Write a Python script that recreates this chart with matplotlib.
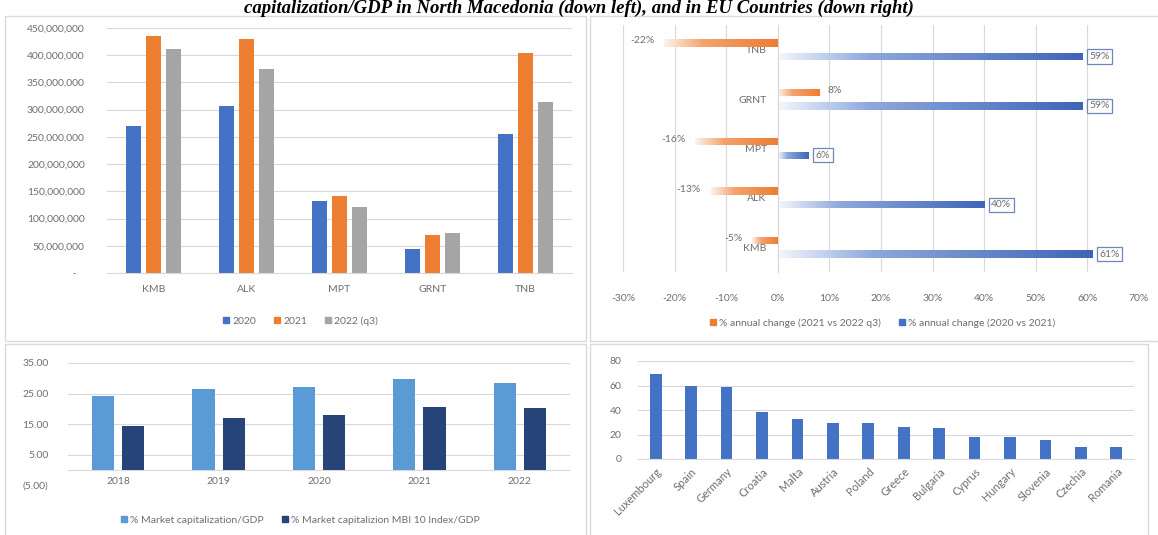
import numpy as np
import matplotlib
matplotlib.use("Agg")
from matplotlib import pyplot as plt
from matplotlib.lines import Line2D
from matplotlib.patches import Rectangle
from matplotlib.colors import LinearSegmentedColormap
from matplotlib.ticker import FuncFormatter

plt.rcParams['font.family'] = ['Lato', 'DejaVu Sans']
plt.rcParams['font.size'] = 7.5
plt.rcParams['text.color'] = '#6E6E6E'
plt.rcParams['xtick.color'] = '#6E6E6E'
plt.rcParams['ytick.color'] = '#6E6E6E'

# Data Set
companies = ["KMB", "ALK", "MPT", "GRNT", "TNB"]
cap_2020 = [270e6, 306e6, 133e6, 44e6, 256e6]
cap_2021 = [436e6, 430e6, 142e6, 70e6, 405e6]
cap_2022q3 = [411e6, 374e6, 121e6, 74e6, 315e6]

chg_21_22 = [-5, -13, -16, 8, -22]     # % annual change (2021 vs 2022 q3)
chg_20_21 = [61, 40, 6, 59, 59]        # % annual change (2020 vs 2021)

years = ["2018", "2019", "2020", "2021", "2022"]
mcap_gdp = [24.2, 26.4, 27.2, 29.8, 28.3]
mbi_gdp = [14.2, 17.0, 17.9, 20.7, 20.3]

countries = ["Luxembourg", "Spain", "Germany", "Croatia", "Malta", "Austria", "Poland",
             "Greece", "Bulgaria", "Cyprus", "Hungary", "Slovenia", "Czechia", "Romania"]
eu_values = [69, 59.5, 59, 38.5, 33, 29.6, 29, 26.3, 25, 18.2, 17.6, 15.5, 10, 9.5]

BLUE, ORANGE, GRAY = '#4472C4', '#ED7D31', '#A5A5A5'
LIGHT, NAVY = '#5B9BD5', '#264478'
GRID = '#D9D9D9'

W, H = 1158, 535
fig = plt.figure(figsize=(W / 100, H / 100), dpi=100)


def px_axes(l, t, r, b):
    return fig.add_axes([l / W, 1 - b / H, (r - l) / W, (b - t) / H])


def clean(ax):
    for s in ax.spines.values():
        s.set_visible(False)
    ax.tick_params(length=0)


def legend_at(ax, handles, labels, x, y, ncol):
    ax.legend(handles, labels, loc='center', bbox_to_anchor=(x / W, 1 - y / H),
              bbox_transform=fig.transFigure, ncol=ncol, frameon=False,
              handletextpad=0.2, columnspacing=1.6, handlelength=0.8, fontsize=7.5)


def sq(c):
    return Line2D([], [], marker='s', ls='', color=c, markersize=4.5)


# panel borders
for (l, t, r, b) in [(5, 16, 586, 341), (590, 16, 1170, 341), (5, 344, 586, 545), (590, 344, 1148, 545)]:
    fig.patches.append(Rectangle((l / W, 1 - b / H), (r - l) / W, (b - t) / H,
                                 transform=fig.transFigure, fill=False, ec=GRID, lw=1))

# title
fig.text(0.5, 1 - 13 / H, "capitalization/GDP in North Macedonia (down left), and in EU Countries (down right)",
         ha='center', va='baseline', family='Liberation Serif', weight='bold', style='italic',
         fontsize=13.5, color='black')

# ---- top left: market cap per company
ax1 = px_axes(107, 28, 572, 273)
x = np.arange(len(companies))
bw = 0.16
ax1.bar(x - 0.215, cap_2020, bw, color=BLUE, zorder=2)
ax1.bar(x, cap_2021, bw, color=ORANGE, zorder=2)
ax1.bar(x + 0.215, cap_2022q3, bw, color=GRAY, zorder=2)
ax1.set_xlim(-0.5, 4.5)
ax1.set_ylim(0, 450e6)
ax1.set_yticks(np.arange(0, 450e6 + 1, 50e6))
ax1.yaxis.set_major_formatter(FuncFormatter(lambda v, p: ' -   ' if v == 0 else f'{v:,.0f}'))
ax1.set_xticks(x)
ax1.set_xticklabels(companies)
ax1.grid(axis='y', color=GRID, lw=0.8, zorder=0)
clean(ax1)
ax1.spines['bottom'].set_visible(True)
ax1.spines['bottom'].set_color(GRID)
ax1.tick_params(axis='y', pad=16)
ax1.tick_params(axis='x', pad=9)
legend_at(ax1, [sq(BLUE), sq(ORANGE), sq(GRAY)], ["2020", "2021", "2022 (q3)"], 300, 321, 3)

# ---- top right: annual change, gradient bars
ax2 = px_axes(623, 25, 1139, 272)
y = np.arange(len(companies))
bh = 0.15
ob = ax2.barh(y + 0.137, chg_21_22, bh, color='none', zorder=3)
bb = ax2.barh(y - 0.137, chg_20_21, bh, color='none', zorder=3)
cm_o = LinearSegmentedColormap.from_list('o', [(0, '#FDF3EC'), (0.35, '#F3A26C'), (1, ORANGE)])
cm_b = LinearSegmentedColormap.from_list('b', [(0, '#F4F7FC'), (0.3, '#8EA8DC'), (1, '#3F65B8')])
grad = np.linspace(0, 1, 256).reshape(1, -1)
for bars, cm in [(ob, cm_o), (bb, cm_b)]:
    for bar in bars:
        x0, w = bar.get_x(), bar.get_width()
        y0, h = bar.get_y(), bar.get_height()
        im = ax2.imshow(grad, extent=[min(x0, x0 + w), max(x0, x0 + w), y0, y0 + h],
                        aspect='auto', cmap=cm, zorder=2, interpolation='bilinear')
        im.set_clip_path(bar)
for i, v in enumerate(chg_20_21):
    ax2.annotate(f'{v}%', (v, i - 0.137), xytext=(5, 0), textcoords='offset points',
                 ha='left', va='center', fontsize=7.5,
                 bbox=dict(boxstyle='square,pad=0.25', fc='white', ec='#6F87B8', lw=0.9))
for i, v in enumerate(chg_21_22):
    if v < 0:
        ax2.annotate(f'{v}%', (v, i + 0.18), xytext=(-7, 0), textcoords='offset points',
                     ha='right', va='center', fontsize=7.5)
    else:
        ax2.annotate(f'{v}%', (v, i + 0.18), xytext=(6, 0), textcoords='offset points',
                     ha='left', va='center', fontsize=7.5)
ax2.set_xlim(-30, 70)
ax2.set_ylim(-0.5, 4.5)
ax2.set_xticks(np.arange(-30, 71, 10))
ax2.xaxis.set_major_formatter(FuncFormatter(lambda v, p: f'{v:.0f}%'))
ax2.set_yticks(y)
ax2.set_yticklabels(companies)
ax2.grid(axis='x', color=GRID, lw=0.8, zorder=0)
clean(ax2)
ax2.spines['left'].set_position(('data', 0))
ax2.spines['left'].set_visible(True)
ax2.spines['left'].set_color(GRID)
ax2.tick_params(axis='y', pad=8)
ax2.tick_params(axis='x', pad=16)
for lab in ax2.get_yticklabels():
    lab.set_zorder(5)
legend_at(ax2, [sq(ORANGE), sq(BLUE)],
          ["% annual change (2021 vs 2022 q3)", "% annual change (2020 vs 2021)"], 882, 323, 2)

# ---- bottom left: market capitalization / GDP
ax3 = px_axes(68, 363, 570, 485)
xy = np.arange(len(years))
ax3.bar(xy - 0.15, mcap_gdp, 0.22, color=LIGHT, zorder=2)
ax3.bar(xy + 0.15, mbi_gdp, 0.22, color=NAVY, zorder=2)
ax3.set_xlim(-0.5, 4.5)
ax3.set_ylim(-5, 35)
ax3.set_yticks([-5, 5, 15, 25, 35])
ax3.yaxis.set_major_formatter(FuncFormatter(lambda v, p: f'({abs(v):.2f})' if v < 0 else f'{v:.2f}'))
ax3.set_xticks(xy)
ax3.set_xticklabels(years)
ax3.grid(axis='y', color=GRID, lw=0.8, zorder=0)
ax3.axhline(0, color=GRID, lw=0.8, zorder=1)
clean(ax3)
ax3.tick_params(axis='y', pad=14)
ax3.tick_params(axis='x', pad=-6)
legend_at(ax3, [sq(LIGHT), sq(NAVY)],
          ["% Market capitalization/GDP", "% Market capitalizion MBI 10 Index/GDP"], 300, 520, 2)

# ---- bottom right: EU countries
ax4 = px_axes(638, 361, 1134, 459)
xc = np.arange(len(countries))
ax4.bar(xc, eu_values, 0.33, color=BLUE, zorder=2)
ax4.set_xlim(-0.5, len(countries) - 0.5)
ax4.set_ylim(0, 80)
ax4.set_yticks(np.arange(0, 81, 20))
ax4.set_xticks(xc)
ax4.set_xticklabels(countries, rotation=45, ha='right', rotation_mode='anchor', fontsize=8)
ax4.grid(axis='y', color=GRID, lw=0.8, zorder=0)
clean(ax4)
ax4.spines['bottom'].set_visible(True)
ax4.spines['bottom'].set_color(GRID)
ax4.tick_params(axis='y', pad=12)
ax4.tick_params(axis='x', pad=5)

fig.savefig("out.png", dpi=100)
